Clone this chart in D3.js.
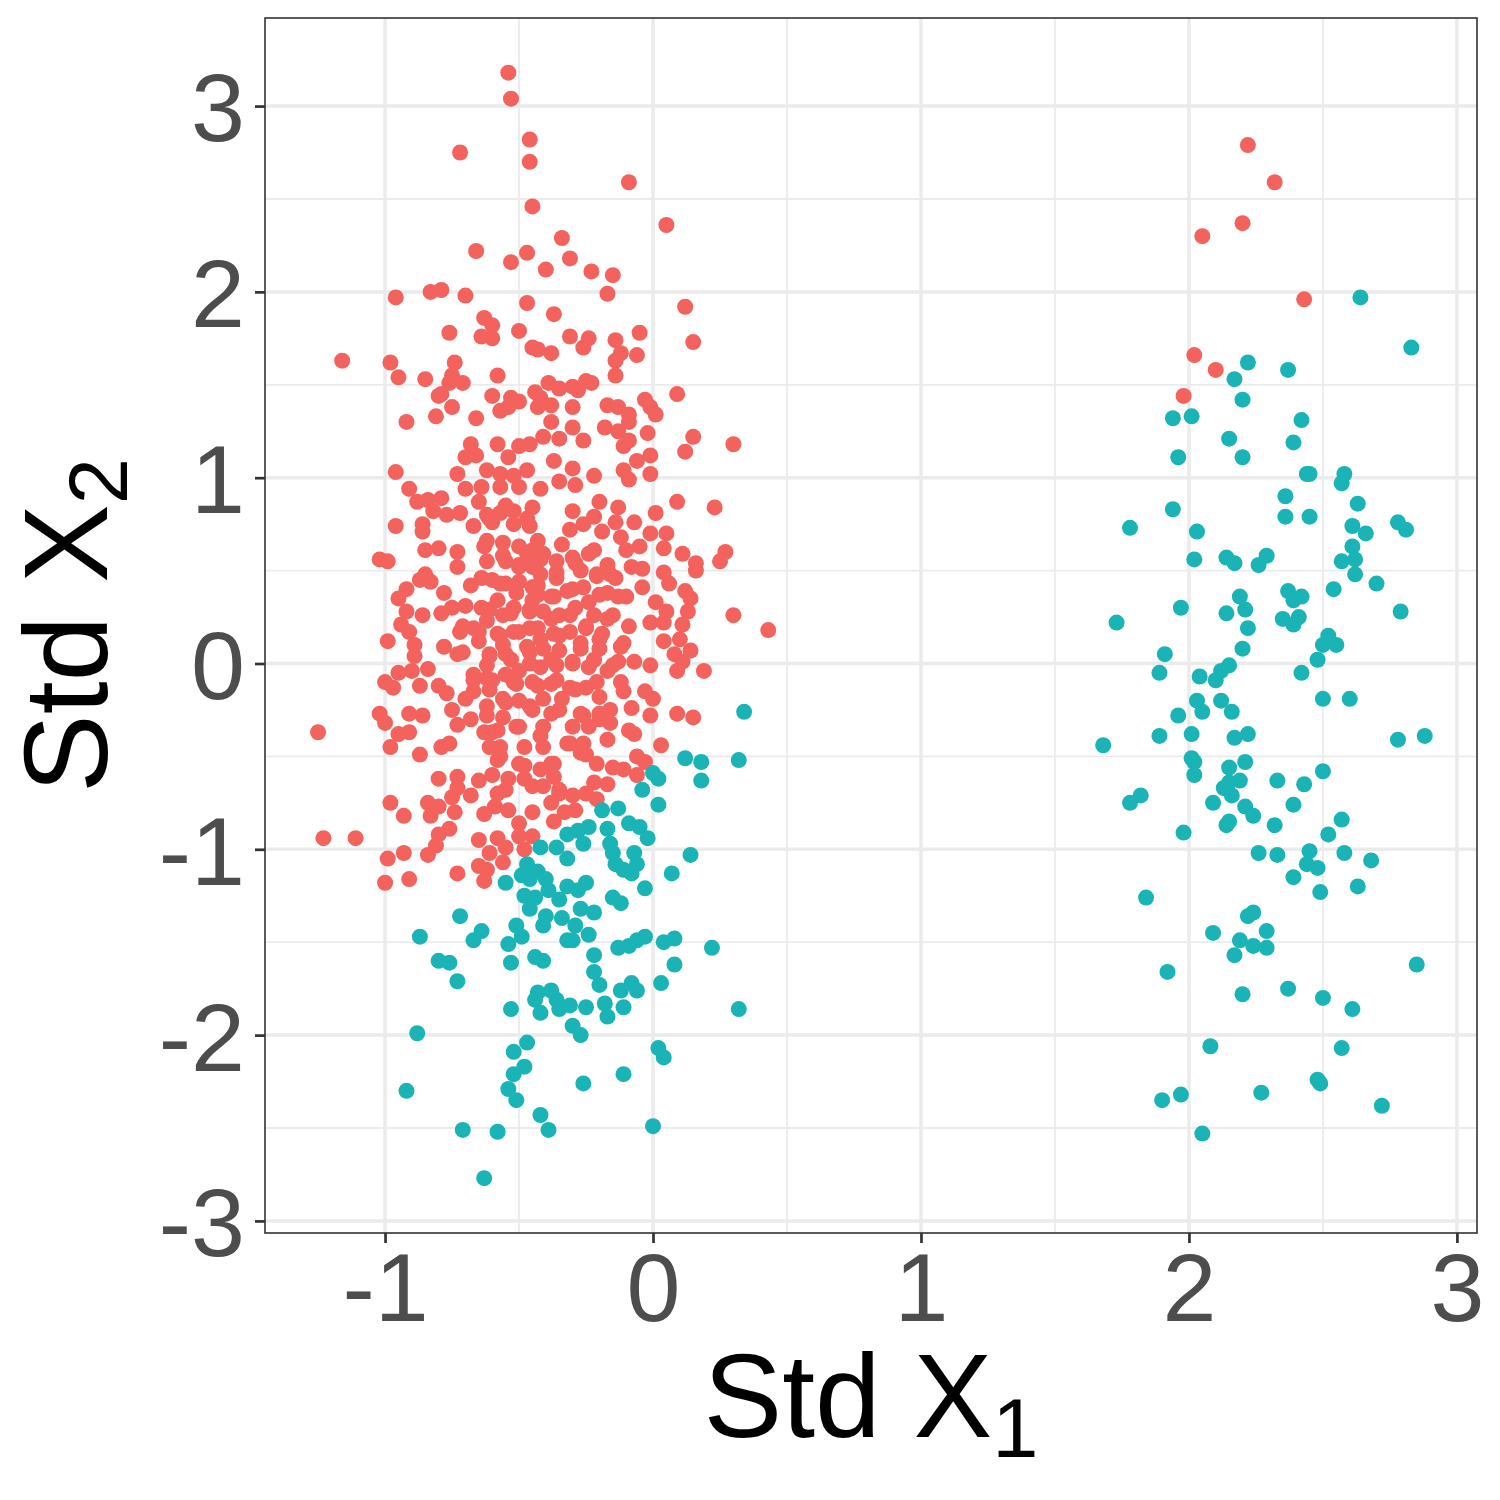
<!DOCTYPE html>
<html>
<head>
<meta charset="utf-8">
<script src="https://cdn.jsdelivr.net/npm/d3@7"></script>
<style>
  body { margin: 0; background: #fff; }
  text { font-family: "Liberation Sans", Arial, sans-serif; }
</style>
</head>
<body>
<svg id="scatter" width="1500" height="1500"></svg>
<script>
// group 1 (red) points, [Std X1, Std X2]
var redPoints = [
  [2.22,2.79],[2.32,2.59],[2.20,2.37],[2.05,2.30],[2.43,1.96],[2.02,1.66],[2.10,1.58],[1.98,1.44],
  [-0.54,3.18],[-0.53,3.04],[-0.46,2.82],[-0.72,2.75],[-0.46,2.70],[-0.09,2.59],[-0.45,2.46],[0.05,2.36],
  [-0.34,2.29],[-0.66,2.22],[-0.47,2.21],[-0.53,2.16],[-0.31,2.18],[-0.40,2.12],[-0.23,2.11],[-0.15,2.09],
  [-0.17,1.99],[-0.96,1.97],[-0.83,2.00],[-0.79,2.01],[-0.70,1.98],[-0.47,1.94],[-0.37,1.88],[0.12,1.92],
  [-0.63,1.86],[-0.60,1.82],[-0.76,1.78],[-0.64,1.76],[-0.60,1.75],[-0.50,1.79],[-0.31,1.76],[-0.24,1.75],
  [-0.26,1.70],[-0.14,1.74],[-0.05,1.78],[0.15,1.73],[-0.45,1.70],[-0.43,1.69],[-0.38,1.67],[-0.12,1.67],
  [-0.14,1.63],[-0.06,1.66],[-1.16,1.63],[-0.98,1.62],[-0.74,1.62],[-0.95,1.54],[-0.85,1.53],[-0.75,1.55],
  [-0.76,1.51],[-0.71,1.51],[-0.58,1.55],[-0.14,1.55],[-0.39,1.51],[-0.35,1.48],[-0.30,1.49],[-0.28,1.47],
  [-0.25,1.52],[-0.23,1.51],[-0.80,1.44],[-0.79,1.45],[-0.60,1.44],[-0.53,1.43],[-0.50,1.41],[-0.44,1.46],
  [-0.42,1.43],[-0.38,1.39],[-0.43,1.38],[-0.30,1.38],[-0.17,1.39],[-0.13,1.38],[-0.09,1.34],[-0.03,1.42],
  [-0.01,1.38],[0.01,1.34],[0.09,1.45],[-0.75,1.38],[-0.81,1.33],[-0.66,1.32],[-0.57,1.36],[-0.54,1.38],
  [-0.92,1.30],[-0.68,1.18],[-0.58,1.18],[-0.50,1.17],[-0.46,1.18],[-0.70,1.11],[-0.66,1.12],[-0.54,1.11],
  [-0.73,1.02],[-0.62,1.04],[-0.57,1.02],[-0.52,1.01],[-0.47,1.04],[-0.96,1.03],[-0.70,0.94],[-0.64,0.95],
  [-0.57,0.95],[-0.50,0.95],[-0.91,0.94],[-0.88,0.87],[-0.84,0.88],[-0.79,0.89],[-0.82,0.82],[-0.77,0.80],
  [-0.72,0.81],[-0.65,0.87],[-0.62,0.80],[-0.57,0.81],[-0.52,0.82],[-0.45,0.84],[-0.86,0.75],[-0.86,0.71],
  [-0.96,0.74],[-0.67,0.74],[-0.60,0.76],[-0.52,0.75],[-0.46,0.74],[-0.62,0.66],[-0.56,0.65],[-0.50,0.63],
  [-0.45,0.61],[-0.85,0.61],[-0.80,0.62],[-0.73,0.60],[-0.73,0.52],[-1.02,0.56],[-0.99,0.55],[-0.62,0.55],
  [-0.55,0.55],[-0.50,0.53],[-0.45,0.52],[-0.87,0.45],[-0.85,0.48],[-0.83,0.44],[-0.92,0.40],[-0.95,0.35],
  [-0.78,0.38],[-0.68,0.42],[-0.64,0.46],[-0.60,0.45],[-0.55,0.43],[-0.50,0.44],[-0.45,0.41],[-0.92,0.28],
  [-0.86,0.26],[-0.79,0.27],[-0.75,0.30],[-0.70,0.31],[-0.64,0.30],[-0.58,0.34],[-0.52,0.30],[-0.46,0.28],
  [-0.94,0.21],[-0.91,0.17],[-0.89,0.10],[-0.89,0.04],[-0.99,0.12],[-0.78,0.09],[-0.73,0.05],[-0.71,0.06],
  [-0.72,0.17],[-0.67,0.19],[-0.65,0.12],[-0.58,0.16],[-0.52,0.17],[-0.46,0.19],[-0.61,0.05],[-0.55,0.05],
  [-0.47,0.09],[-0.95,-0.05],[-0.90,-0.04],[-0.84,-0.03],[-1.00,-0.10],[-0.97,-0.13],[-0.87,-0.12],[-0.80,-0.12],
  [-0.77,-0.16],[-0.67,-0.06],[-0.62,-0.08],[-0.67,-0.15],[-0.61,-0.14],[-0.55,-0.06],[-0.46,0.00],[-0.51,-0.11],
  [-0.45,-0.10],[-0.70,-0.19],[-0.56,-0.19],[-0.50,-0.20],[-0.62,0.23],[-0.56,0.10],[-0.50,-0.04],[-0.62,-0.01],
  [-0.56,0.26],[-0.45,0.34],[-0.47,0.59],[-0.43,0.66],
  [-0.38,1.30],[-0.30,1.27],[-0.18,1.27],[-0.13,1.25],[-0.09,1.30],[-0.41,1.22],[-0.35,1.21],[-0.26,1.20],
  [-0.02,1.24],[-0.11,1.17],[-0.09,1.20],[0.15,1.22],[0.12,1.14],[0.30,1.18],[-0.37,1.09],[-0.30,1.05],
  [-0.22,1.01],[-0.11,1.04],[-0.09,0.99],[-0.06,1.09],[-0.01,1.12],[-0.01,1.02],[-0.35,0.98],[-0.29,0.96],
  [-0.42,0.94],[0.09,0.87],[0.23,0.84],[0.01,0.81],[-0.30,0.82],[-0.20,0.87],[-0.13,0.84],[-0.22,0.79],
  [-0.14,0.76],[-0.07,0.76],[-0.12,0.68],[-0.31,0.72],[-0.26,0.75],[-0.19,0.71],[-0.01,0.70],[0.05,0.70],
  [-0.05,0.63],[0.04,0.62],[-0.10,0.61],[0.11,0.59],[0.27,0.60],[0.25,0.55],[0.16,0.54],[0.16,0.50],
  [-0.34,0.64],[-0.22,0.61],[-0.17,0.53],[-0.08,0.52],[-0.04,0.51],[0.04,0.49],[0.06,0.43],[-0.04,0.41],
  [-0.14,0.46],[0.12,0.39],[0.14,0.35],[0.13,0.28],[0.01,0.33],[0.05,0.28],[-0.13,0.36],[-0.10,0.36],
  [0.30,0.26],[0.43,0.18],[-0.01,0.22],[0.04,0.22],[0.11,0.21],[-0.09,0.20],[-0.15,0.26],[0.04,0.12],
  [0.10,0.13],[0.08,0.05],[0.11,0.01],[0.14,0.07],[0.09,-0.04],[0.19,-0.04],[-0.01,-0.01],[-0.07,0.01],
  [-0.11,0.11],[-0.13,0.01],[-0.12,-0.10],[-0.11,-0.15],[-0.03,-0.15],[0.00,-0.19],[-0.20,-0.18],[-0.25,-0.13],
  [-0.41,0.59],[-0.36,0.55],[-0.30,0.57],[-0.24,0.59],[-0.42,0.48],[-0.36,0.46],[-0.27,0.50],[-0.21,0.48],
  [-0.16,0.48],[-0.43,0.37],[-0.38,0.36],[-0.32,0.39],[-0.26,0.41],[-0.20,0.37],[-0.41,0.28],[-0.35,0.26],
  [-0.29,0.30],[-0.22,0.26],[-0.43,0.19],[-0.37,0.16],[-0.31,0.17],[-0.25,0.19],[-0.19,0.16],[-0.41,0.08],
  [-0.35,0.07],[-0.27,0.08],[-0.20,0.08],[-0.42,-0.02],[-0.36,-0.01],[-0.30,0.01],[-0.24,-0.02],[-0.17,-0.04],
  [-0.38,-0.11],[-0.31,-0.13],[-0.41,-0.19],[-0.34,-0.19],
  [-0.61,0.78],[-0.55,0.85],[-0.47,0.78],[-0.63,0.63],[-0.56,0.58],[-0.50,0.52],[-0.42,0.56],[-0.36,0.49],
  [-0.29,0.54],[-0.21,0.47],[-0.57,0.43],[-0.51,0.38],[-0.43,0.42],[-0.37,0.36],[-0.30,0.40],[-0.24,0.33],
  [-0.17,0.38],[-0.61,0.29],[-0.53,0.27],[-0.46,0.29],[-0.38,0.24],[-0.31,0.26],[-0.25,0.20],[-0.17,0.24],
  [-0.71,0.20],[-0.65,0.17],[-0.57,0.15],[-0.50,0.17],[-0.42,0.13],[-0.35,0.15],[-0.27,0.11],[-0.20,0.13],
  [-0.12,0.09],[-0.61,0.04],[-0.53,0.02],[-0.46,0.06],[-0.38,0.02],[-0.30,0.00],[-0.22,0.02],[-0.15,-0.01],
  [-0.67,-0.09],[-0.60,-0.09],[-0.52,-0.10],[-0.43,-0.12],[-0.36,-0.09],[-0.29,-0.14],[-0.21,-0.10],[-0.62,-0.23],
  [-0.55,-0.21],[-0.46,-0.23],[-0.38,-0.27],[-0.27,-0.27],[-0.20,-0.30],[-0.60,-0.37],[-0.51,-0.34],[-0.42,-0.39],
  [-0.32,-0.43],[-0.57,-0.50],[-0.48,-0.55],[-0.38,-0.54],[-0.27,-0.48],[-0.55,-0.68],[-0.45,-0.66],[-0.35,-0.70],
  [-1.25,-0.37],[-1.02,-0.27],[-1.00,-0.32],[-0.91,-0.27],[-0.86,-0.28],[-0.95,-0.38],[-0.91,-0.37],[-0.98,-0.45],
  [-0.87,-0.49],[-0.79,-0.45],[-0.76,-0.43],[-0.75,-0.25],[-0.73,-0.33],[-0.68,-0.30],[-0.62,-0.28],[-0.63,-0.37],
  [-0.58,-0.36],[-0.56,-0.29],[-0.61,-0.45],[-0.57,-0.45],[-0.58,-0.52],[-0.80,-0.62],[-0.73,-0.61],[-0.73,-0.67],
  [-0.65,-0.63],[-0.60,-0.60],[-0.68,-0.71],[-0.75,-0.72],[-0.58,-0.70],[-0.54,-0.62],[-0.98,-0.75],[-0.84,-0.75],
  [-0.80,-0.77],[-0.83,-0.82],[-0.74,-0.80],[-0.93,-0.82],[-0.63,-0.81],[-0.59,-0.77],[-0.54,-0.79],[-0.76,-0.89],
  [-0.80,-0.92],[-1.23,-0.94],[-1.11,-0.94],[-0.65,-0.95],[-0.58,-0.94],[-0.81,-0.98],[-0.84,-1.03],[-0.93,-1.02],
  [-0.99,-1.05],[-0.61,-1.02],[-0.55,-0.99],[-0.56,-1.07],[-0.73,-1.13],[-0.65,-1.09],[-0.62,-1.11],[-0.63,-1.17],
  [-0.91,-1.16],[-1.00,-1.18],
  [-0.45,-0.25],[-0.35,-0.25],[-0.26,-0.28],[-0.20,-0.27],[-0.16,-0.25],[-0.08,-0.24],[-0.01,-0.28],[0.09,-0.27],
  [0.15,-0.29],[0.03,-0.44],[-0.50,-0.34],[-0.41,-0.34],[-0.30,-0.34],[-0.24,-0.34],[-0.16,-0.32],[-0.09,-0.36],
  [-0.07,-0.38],[-0.17,-0.41],[-0.31,-0.43],[-0.26,-0.43],[-0.48,-0.45],[-0.41,-0.45],[-0.06,-0.50],[-0.03,-0.53],
  [-0.21,-0.54],[-0.25,-0.49],[-0.15,-0.56],[-0.11,-0.57],[-0.06,-0.60],[-0.37,-0.54],[-0.37,-0.61],[-0.50,-0.54],
  [-0.42,-0.57],[-0.48,-0.62],[-0.41,-0.66],[-0.22,-0.64],[-0.17,-0.65],[-0.25,-0.70],[-0.21,-0.73],[-0.30,-0.71],
  [-0.35,-0.68],[-0.38,-0.75],[-0.29,-0.79],[-0.33,-0.80],[-0.45,-0.80],[-0.37,-0.85],[-0.50,-0.86],[-0.45,-0.93],
  [-0.50,-0.93],[-0.48,-1.00]
];

// group 2 (teal) points
var tealPoints = [
  [0.34,-0.26],[0.12,-0.51],[0.18,-0.53],[0.18,-0.63],[0.32,-0.52],[0.00,-0.59],[0.02,-0.62],[-0.04,-0.68],
  [0.02,-0.76],[-0.19,-0.79],[-0.13,-0.78],[-0.17,-0.89],[-0.09,-0.86],[-0.05,-0.88],[-0.02,-0.94],[-0.24,-0.88],
  [-0.28,-0.90],[-0.32,-0.92],[-0.26,-0.97],[-0.42,-0.99],[-0.36,-0.99],[-0.32,-1.05],[-0.16,-0.97],[-0.15,-1.02],
  [-0.14,-1.08],[-0.11,-1.11],[-0.08,-1.13],[-0.07,-1.02],[-0.06,-1.08],[0.14,-1.03],[0.07,-1.13],[-0.03,-1.21],
  [-0.47,-1.08],[-0.49,-1.14],[-0.43,-1.12],[-0.46,-1.16],[-0.40,-1.16],[-0.55,-1.18],[-0.39,-1.22],[-0.32,-1.20],
  [-0.25,-1.18],[-0.28,-1.22],[-0.35,-1.27],[-0.48,-1.25],[-0.44,-1.26],[-0.46,-1.32],[-0.15,-1.26],[-0.12,-1.29],
  [-0.27,-1.32],[-0.22,-1.34],[-0.40,-1.36],[-0.34,-1.37],[-0.41,-1.41],[-0.29,-1.41],[-0.72,-1.36],[-0.51,-1.41],
  [-0.49,-1.47],[-0.54,-1.51],[-0.64,-1.44],[-0.67,-1.49],[-0.87,-1.47],[-0.80,-1.60],[-0.76,-1.61],[-0.73,-1.71],
  [-0.53,-1.61],[-0.44,-1.58],[-0.41,-1.60],[-0.32,-1.49],[-0.30,-1.49],[-0.24,-1.46],[-0.22,-1.57],[-0.22,-1.66],
  [-0.20,-1.73],[-0.13,-1.53],[-0.09,-1.52],[-0.06,-1.49],[-0.03,-1.47],[0.04,-1.50],[0.08,-1.48],[0.22,-1.53],
  [0.08,-1.62],[0.03,-1.72],[-0.12,-1.76],[-0.08,-1.72],[-0.06,-1.76],[-0.11,-1.85],[-0.18,-1.83],[-0.17,-1.90],
  [-0.25,-1.85],[-0.31,-1.84],[-0.35,-1.86],[-0.36,-1.81],[-0.38,-1.76],[-0.43,-1.77],[-0.44,-1.81],[-0.42,-1.88],
  [-0.53,-1.86],[-0.30,-1.95],[-0.27,-2.00],[-0.88,-1.99],[0.32,-1.86],[-0.47,-2.04],[-0.52,-2.09],[-0.48,-2.17],
  [-0.52,-2.21],[-0.54,-2.29],[-0.51,-2.35],[0.02,-2.07],[0.04,-2.12],[-0.11,-2.21],[-0.26,-2.26],[-0.92,-2.30],
  [-0.42,-2.43],[-0.39,-2.51],[-0.71,-2.51],[-0.58,-2.52],[0.00,-2.49],[-0.63,-2.77],
  [2.64,1.97],[2.83,1.70],[2.22,1.62],[2.37,1.58],[2.17,1.53],[2.20,1.42],[1.94,1.32],[2.01,1.33],
  [2.42,1.31],[2.15,1.21],[2.39,1.19],[1.96,1.11],[2.20,1.11],[2.44,1.02],[2.45,1.02],[2.58,1.02],
  [2.57,0.97],[1.94,0.83],[2.36,0.90],[2.63,0.86],[1.78,0.73],[2.03,0.71],[2.36,0.79],[2.45,0.79],
  [2.61,0.74],[2.66,0.70],[2.78,0.76],[2.81,0.72],[2.61,0.63],[2.02,0.56],[2.14,0.57],[2.17,0.54],
  [2.29,0.58],[2.26,0.53],[2.57,0.55],[2.62,0.56],
  [2.62,0.48],[2.70,0.43],[2.54,0.40],[2.19,0.36],[2.37,0.39],[2.42,0.36],[2.39,0.34],[1.97,0.30],
  [2.21,0.29],[2.79,0.28],[1.73,0.22],[2.14,0.27],[2.22,0.19],[2.35,0.24],[2.41,0.25],[2.39,0.21],
  [2.52,0.15],[2.50,0.10],[2.55,0.10],[2.20,0.08],[1.91,0.05],[2.48,0.02],[2.15,-0.01],[2.12,-0.04],
  [2.10,-0.09],[1.89,-0.05],[2.04,-0.07],[2.42,-0.05],[2.50,-0.19],[2.60,-0.19],[2.03,-0.20],[2.05,-0.26],
  [2.12,-0.20],[2.16,-0.26],[1.96,-0.28],[1.89,-0.39],[2.01,-0.38],[2.17,-0.40],[2.22,-0.38],[1.68,-0.44],
  [2.78,-0.41],[2.88,-0.39],[2.01,-0.51],[2.02,-0.53],[2.02,-0.60],[2.15,-0.56],[2.21,-0.53],[2.19,-0.63],
  [2.13,-0.67],[2.15,-0.64],[2.16,-0.71],[2.33,-0.63],[2.43,-0.65],[2.50,-0.58],[1.82,-0.71],[1.78,-0.75],
  [2.09,-0.75],[2.39,-0.76],[2.21,-0.77],[2.24,-0.82],[2.15,-0.85],[2.14,-0.87],[2.32,-0.87],[2.57,-0.84],
  [1.98,-0.91],[2.52,-0.92],[2.26,-1.02],[2.33,-1.03],[2.45,-1.01],[2.44,-1.08],[2.48,-1.10],[2.58,-1.02],
  [2.68,-1.06],[2.39,-1.15],[2.49,-1.23],[2.63,-1.20],[1.84,-1.26],[2.22,-1.36],[2.24,-1.34],[2.09,-1.45],
  [2.29,-1.44],[2.19,-1.49],[2.24,-1.52],[2.29,-1.53],[2.17,-1.57],[2.85,-1.62],[1.92,-1.66],[2.20,-1.78],
  [2.37,-1.75],[2.50,-1.80],[2.61,-1.86],[2.08,-2.06],[2.57,-2.07],[2.48,-2.24],[2.49,-2.26],[1.90,-2.35],
  [1.97,-2.32],[2.27,-2.31],[2.72,-2.38],[2.05,-2.53]
];

var xTicks = [-1, 0, 1, 2, 3],
    yTicks = [-3, -2, -1, 0, 1, 2, 3],
    xMinor = [-0.5, 0.5, 1.5, 2.5],
    yMinor = [-2.5, -1.5, -0.5, 0.5, 1.5, 2.5];

// panel edges (window.top is read-only, so not named top/bottom)
var svg = d3.select('#scatter'),
    panelL = 265, panelR = 1477, panelT = 18, panelB = 1233;

var x = d3.scaleLinear().domain([-1.448, 3.075]).range([panelL, panelR]);
var y = d3.scaleLinear().domain([-3.065, 3.474]).range([panelB, panelT]);

svg.append('rect').attr('width', 1500).attr('height', 1500).attr('fill', '#fff');

// grid lines (minor first, then major)
var grid = svg.append('g');
grid.selectAll('.vminor').data(xMinor).enter().append('line')
    .attr('x1', d => x(d)).attr('x2', d => x(d)).attr('y1', panelT).attr('y2', panelB)
    .attr('stroke', '#ebebeb').attr('stroke-width', 1.8);
grid.selectAll('.hminor').data(yMinor).enter().append('line')
    .attr('y1', d => y(d)).attr('y2', d => y(d)).attr('x1', panelL).attr('x2', panelR)
    .attr('stroke', '#ebebeb').attr('stroke-width', 1.8);
grid.selectAll('.vmajor').data(xTicks).enter().append('line')
    .attr('x1', d => x(d)).attr('x2', d => x(d)).attr('y1', panelT).attr('y2', panelB)
    .attr('stroke', '#ebebeb').attr('stroke-width', 3.5);
grid.selectAll('.hmajor').data(yTicks).enter().append('line')
    .attr('y1', d => y(d)).attr('y2', d => y(d)).attr('x1', panelL).attr('x2', panelR)
    .attr('stroke', '#ebebeb').attr('stroke-width', 3.5);

// points
var pts = svg.append('g');
pts.selectAll('.red').data(redPoints).enter().append('circle')
    .attr('cx', d => x(d[0])).attr('cy', d => y(d[1])).attr('r', 8)
    .attr('fill', '#f3625c');
pts.selectAll('.teal').data(tealPoints).enter().append('circle')
    .attr('cx', d => x(d[0])).attr('cy', d => y(d[1])).attr('r', 8)
    .attr('fill', '#1ab4b6');

// panel border
svg.append('rect')
    .attr('x', panelL).attr('y', panelT).attr('width', panelR - panelL).attr('height', panelB - panelT)
    .attr('fill', 'none').attr('stroke', '#333').attr('stroke-width', 1.6);

// axes
var xAxis = svg.append('g')
    .attr('transform', 'translate(0,' + panelB + ')')
    .call(d3.axisBottom(x).tickValues(xTicks).tickSize(10).tickPadding(12).tickFormat(d => String(d)));
var yAxis = svg.append('g')
    .attr('transform', 'translate(' + panelL + ',0)')
    .call(d3.axisLeft(y).tickValues(yTicks).tickSize(10).tickPadding(10).tickFormat(d => String(d)));

[xAxis, yAxis].forEach(a => {
    a.select('.domain').remove();
    a.selectAll('.tick line').attr('stroke', '#333').attr('stroke-width', 2.7);
    a.selectAll('.tick text')
        .attr('fill', '#4d4d4d')
        .style('font-family', '"Liberation Sans", Arial, sans-serif')
        .style('font-size', '97px');
});
xAxis.selectAll('.tick text').attr('dy', null).attr('y', 88);
yAxis.selectAll('.tick text').attr('dy', '0.36em');

// axis titles with subscripts
var xTitle = svg.append('text')
    .attr('x', (panelL + panelR) / 2).attr('y', 1437)
    .attr('text-anchor', 'middle').attr('fill', '#000')
    .style('font-size', '118px');
xTitle.append('tspan').text('Std X');
xTitle.append('tspan').attr('dy', 20).style('font-size', '83px').text('1');

var yTitle = svg.append('text')
    .attr('transform', 'translate(107,' + (panelT + panelB) / 2 + ') rotate(-90)')
    .attr('text-anchor', 'middle').attr('fill', '#000')
    .style('font-size', '118px');
yTitle.append('tspan').text('Std X');
yTitle.append('tspan').attr('dy', 20).style('font-size', '83px').text('2');
</script>
</body>
</html>
